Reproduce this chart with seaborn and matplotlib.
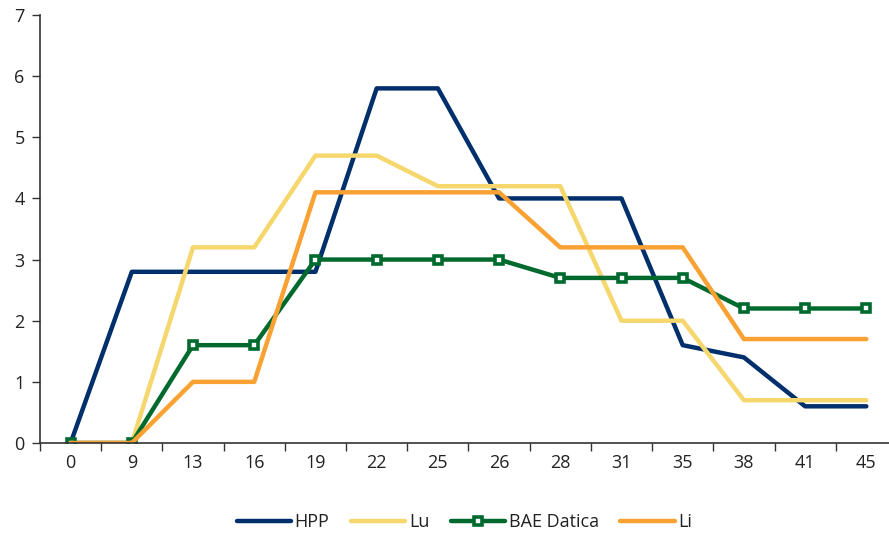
import matplotlib
matplotlib.use("Agg")
import matplotlib.pyplot as plt
import seaborn as sns
import numpy as np
import pandas as pd
from matplotlib.ticker import FixedLocator

categories = ["0", "9", "13", "16", "19", "22", "25", "26", "28", "31", "35", "38", "41", "45"]
hpp = [0, 2.8, 2.8, 2.8, 2.8, 5.8, 5.8, 4.0, 4.0, 4.0, 1.6, 1.4, 0.6, 0.6]
lu = [0, 0, 3.2, 3.2, 4.7, 4.7, 4.2, 4.2, 4.2, 2.0, 2.0, 0.7, 0.7, 0.7]
bae = [0, 0, 1.6, 1.6, 3.0, 3.0, 3.0, 3.0, 2.7, 2.7, 2.7, 2.2, 2.2, 2.2]
li = [0, 0, 1.0, 1.0, 4.1, 4.1, 4.1, 4.1, 3.2, 3.2, 3.2, 1.7, 1.7, 1.7]

sns.set_theme(style="white")
plt.rcParams["font.family"] = ["Open Sans", "DejaVu Sans"]

fig = plt.figure(figsize=(8.89, 5.35), dpi=100)
ax = fig.add_axes([40 / 889, 1 - 443 / 535, 1 - 40 / 889, (443 - 15) / 535])

pos = np.arange(len(categories))
series = [
    ("HPP", hpp, "#002F6C", None),
    ("Lu", lu, "#F5D76E", None),
    ("BAE Datica", bae, "#006A2E", "s"),
    ("Li", li, "#F9A133", None),
]
for name, vals, color, marker in series:
    df = pd.DataFrame({"x": pos, "y": vals})
    kw = {}
    if marker:
        kw = dict(marker=marker, markersize=6, markerfacecolor="white",
                  markeredgecolor=color, markeredgewidth=2.6)
    sns.lineplot(data=df, x="x", y="y", ax=ax, color=color, linewidth=3.2,
                 label=name, solid_capstyle="round", **kw)

ax.set_xlim(-0.5, 13.37)
ax.set_ylim(0, 7)
ax.set_xlabel("")
ax.set_ylabel("")
ax.set_xticks(pos)
ax.set_xticklabels(categories)
ax.xaxis.set_minor_locator(FixedLocator(np.arange(-0.5, 13.6, 1)))
ax.set_yticks(range(0, 8))
ax.tick_params(axis="x", which="major", length=0, pad=8, labelsize=13, colors="#222222")
ax.tick_params(axis="x", which="minor", length=6, width=1, color="#333333", direction="out", bottom=True)
ax.tick_params(axis="y", length=6, width=1, color="#333333", direction="out", left=True, pad=5,
               labelsize=13, labelcolor="#222222")

for s in ["top", "right"]:
    ax.spines[s].set_visible(False)
for s in ["left", "bottom"]:
    ax.spines[s].set_color("#333333")
    ax.spines[s].set_linewidth(1.2)
ax.grid(False)

leg = ax.legend(loc="center", bbox_to_anchor=(0.5, -0.185), ncol=4, frameon=False,
                fontsize=13, handlelength=3, handletextpad=0.2, columnspacing=1.2)
for t in leg.get_texts():
    t.set_color("#222222")

fig.savefig("out.png", dpi=100)
